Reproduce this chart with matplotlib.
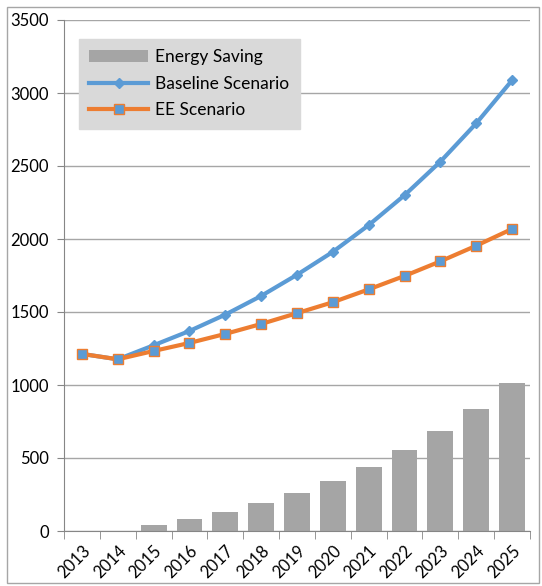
import numpy as np
import matplotlib.pyplot as plt
from matplotlib.patches import Rectangle

years = ['2013', '2014', '2015', '2016', '2017', '2018', '2019',
         '2020', '2021', '2022', '2023', '2024', '2025']
baseline = [1213, 1176, 1272, 1370, 1482, 1610, 1755, 1912, 2095, 2300, 2530, 2792, 3087]
ee = [1213, 1176, 1233, 1288, 1350, 1418, 1492, 1567, 1655, 1747, 1847, 1954, 2069]
saving = [0, 0, 39, 82, 131, 192, 263, 343, 440, 553, 683, 838, 1016]

plt.rcParams['font.family'] = ['Lato', 'DejaVu Sans']

fig = plt.figure(figsize=(5.42, 5.86), dpi=100)
ax = fig.add_axes([64 / 542, 1 - 531 / 586, 466 / 542, 511 / 586])

# outer frame around the whole chart
fig.patches.append(Rectangle((7 / 542, 3 / 586), 532 / 542, 576 / 586,
                             transform=fig.transFigure, fill=False,
                             edgecolor='#a6a6a6', lw=1))

x = np.arange(len(years))
bars = ax.bar(x, saving, width=0.72, color='#a5a5a5', label='Energy Saving', zorder=2)
l1, = ax.plot(x, baseline, color='#5b9bd5', lw=3, marker='D', ms=5,
              mfc='#5b9bd5', mec='#5b9bd5', label='Baseline Scenario', zorder=3)
l2, = ax.plot(x, ee, color='#ed7d31', lw=3, marker='s', ms=7,
              mfc='#5b9bd5', mec='#ed7d31', mew=1, label='EE Scenario', zorder=4)

ax.set_xlim(-0.5, len(years) - 0.5)
ax.set_ylim(0, 3500)
ax.set_yticks(range(0, 3501, 500))
ax.set_xticks(x)
ax.set_xticklabels(years, rotation=45, ha='right', rotation_mode='anchor', fontsize=12)
ax.set_xticks(np.arange(-0.5, len(years), 1), minor=True)
ax.tick_params(axis='x', which='major', length=0, pad=8)
ax.tick_params(axis='x', which='minor', length=6, color='#868686', direction='out')
ax.tick_params(axis='y', length=5, color='#868686', labelsize=12, pad=6)

ax.grid(axis='y', color='#a6a6a6', lw=1, zorder=0)
for s in ['top', 'right']:
    ax.spines[s].set_visible(False)
ax.spines['left'].set_color('#868686')
ax.spines['bottom'].set_color('#868686')

leg = ax.legend([bars, l1, l2], ['Energy Saving', 'Baseline Scenario', 'EE Scenario'],
                loc='upper left', bbox_to_anchor=(15 / 466, 1 - 19 / 511),
                fontsize=12.5, frameon=True, fancybox=False, facecolor='#d9d9d9',
                edgecolor='#d9d9d9', framealpha=1, handlelength=3.4,
                borderpad=0.6, labelspacing=0.6, handletextpad=0.4,
                borderaxespad=0)

fig.savefig('out.png', dpi=100)
